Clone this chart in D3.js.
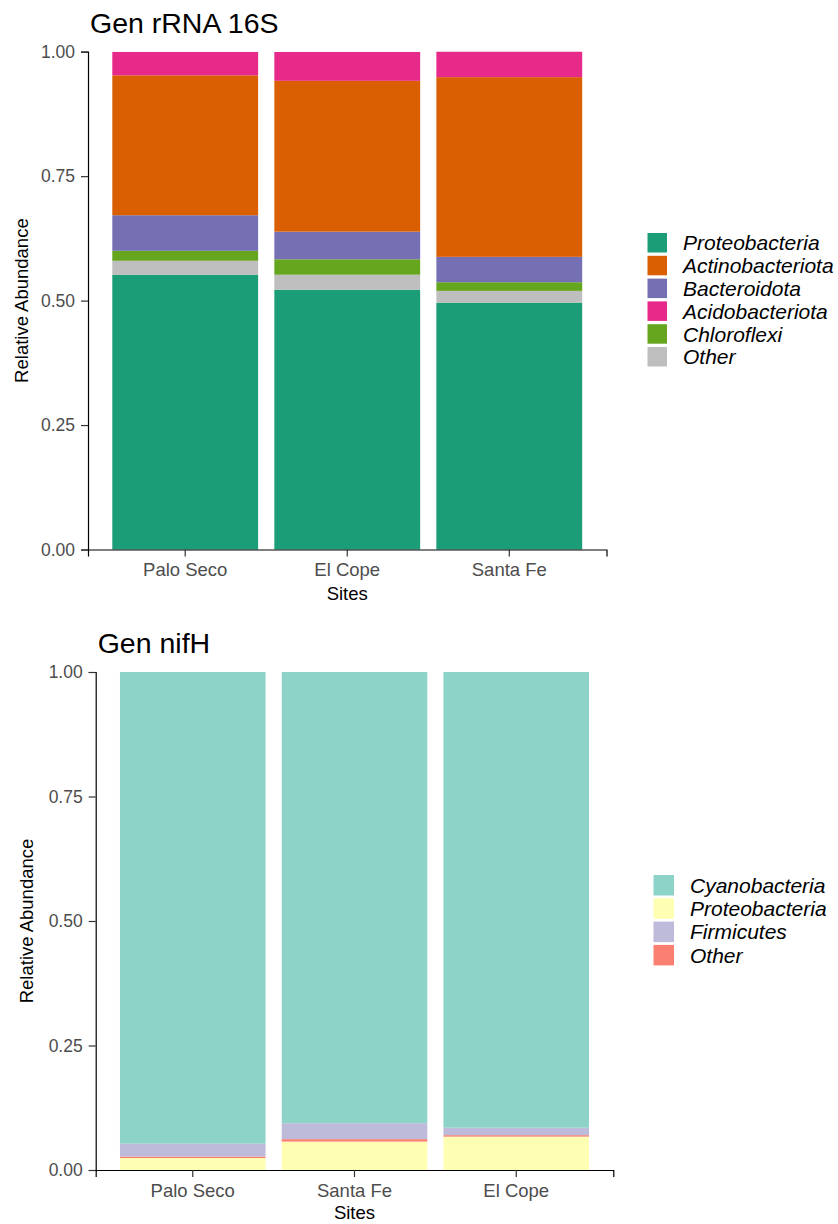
<!DOCTYPE html>
<html>
<head>
<meta charset="utf-8">
<script src="https://cdn.jsdelivr.net/npm/d3@7"></script>
<style>
  html, body { margin: 0; padding: 0; background: #fff; }
  svg { display: block; font-family: "Liberation Sans", Arial, sans-serif; }
</style>
</head>
<body>
<svg id="fig" width="838" height="1224"></svg>
<script>
// ---- 16S rRNA: relative abundance of bacterial phyla per site ----
const sites16S = ["Palo Seco", "El Cope", "Santa Fe"];
const legend16S = ["Proteobacteria", "Actinobacteriota", "Bacteroidota", "Acidobacteriota", "Chloroflexi", "Other"];
const stack16S = ["Proteobacteria", "Other", "Chloroflexi", "Bacteroidota", "Actinobacteriota", "Acidobacteriota"];
const colors16S = ["#1B9E77", "#D95F02", "#7570B3", "#E7298A", "#66A61E", "#BEBEBE"];
const proteobacteria16S = [0.552, 0.522, 0.496];
const actinobacteriota16S = [0.281, 0.303, 0.361];
const bacteroidota16S = [0.0715, 0.0555, 0.051];
const acidobacteriota16S = [0.047, 0.058, 0.051];
const chloroflexi16S = [0.020, 0.031, 0.0174];
const other16S = [0.028, 0.030, 0.0235];

// ---- nifH: relative abundance of diazotroph phyla per site ----
const sitesNifH = ["Palo Seco", "Santa Fe", "El Cope"];
const legendNifH = ["Cyanobacteria", "Proteobacteria", "Firmicutes", "Other"];
const stackNifH = ["Proteobacteria", "Other", "Firmicutes", "Cyanobacteria"];
const colorsNifH = ["#8DD3C7", "#FFFFB3", "#BEBADA", "#FB8072"];
const cyanobacteriaNifH = [0.947, 0.906, 0.915];
const proteobacteriaNifH = [0.024, 0.057, 0.067];
const firmicutesNifH = [0.026, 0.032, 0.015];
const otherNifH = [0.003, 0.005, 0.003];

const yTicks = [0, 0.25, 0.5, 0.75, 1];

const svg = d3.select("#fig");

function buildRows(sites, seriesMap) {
  return sites.map((s, i) => {
    const row = { site: s };
    for (const k in seriesMap) row[k] = seriesMap[k][i];
    return row;
  });
}

function drawPanel(opt) {
  const g = svg.append("g");
  // bars take 90% of each step; 0.6 step of space on either side of the outer bar centres
  const x = d3.scaleBand().domain(opt.sites)
    .range([opt.left, opt.right]).paddingInner(0.1).paddingOuter(0.15);
  const y = d3.scaleLinear().domain([0, 1]).range([opt.bottom, opt.top]);
  const color = d3.scaleOrdinal().domain(opt.legend).range(opt.colors);

  const stacked = d3.stack().keys(opt.stackOrder)(opt.rows);

  g.append("g").selectAll("g").data(stacked).join("g")
    .attr("fill", d => color(d.key))
    .selectAll("rect").data(d => d).join("rect")
      .attr("x", d => x(d.data.site))
      .attr("width", x.bandwidth())
      .attr("y", d => y(d[1]))
      .attr("height", d => y(d[0]) - y(d[1]));

  // y axis
  const yAxis = g.append("g").attr("transform", `translate(${opt.left},0)`)
    .call(d3.axisLeft(y).tickValues(yTicks).tickFormat(d3.format(".2f")).tickSizeOuter(0).tickSize(7).tickPadding(6));
  yAxis.select(".domain").attr("stroke", "#000").attr("stroke-width", 1.2);
  yAxis.selectAll(".tick line").attr("stroke", "#333").attr("stroke-width", 1.2);
  yAxis.selectAll(".tick text").attr("fill", "#4D4D4D").style("font-size", "17.5px");

  // x axis
  const xAxis = g.append("g").attr("transform", `translate(0,${opt.bottom})`)
    .call(d3.axisBottom(x).tickSizeOuter(0).tickSize(7).tickPadding(6));
  xAxis.select(".domain").attr("stroke", "#000").attr("stroke-width", 1.2);
  xAxis.selectAll(".tick line").attr("stroke", "#333").attr("stroke-width", 1.2);
  xAxis.selectAll(".tick text").attr("fill", "#4D4D4D").style("font-size", "18.5px")
    .attr("dy", null).attr("y", opt.xLabelBase - opt.bottom);

  // titles
  g.append("text").attr("x", opt.left + 2).attr("y", opt.titleBase)
    .style("font-size", "28.5px").attr("fill", "#000").text(opt.title);
  g.append("text").attr("x", (opt.left + opt.right) / 2).attr("y", opt.xTitleBase)
    .attr("text-anchor", "middle").style("font-size", "18.5px").attr("fill", "#000").text("Sites");
  g.append("text")
    .attr("transform", `translate(${opt.yTitleX},${(opt.top + opt.bottom) / 2}) rotate(-90)`)
    .attr("text-anchor", "middle").style("font-size", "18.5px").attr("fill", "#000")
    .text("Relative Abundance");

  // legend
  const lg = g.append("g");
  opt.legend.forEach((name, i) => {
    const yy = opt.legendTop + i * opt.legendStep;
    lg.append("rect").attr("x", opt.legendX).attr("y", yy)
      .attr("width", opt.keySize).attr("height", opt.keySize)
      .attr("fill", color(name));
    lg.append("text").attr("x", opt.legendTextX).attr("y", yy + opt.keySize / 2)
      .attr("dy", "0.36em").style("font-size", "21px").style("font-style", "italic")
      .attr("fill", "#000").text(name);
  });
}

drawPanel({
  title: "Gen rRNA 16S",
  sites: sites16S, legend: legend16S, colors: colors16S, stackOrder: stack16S,
  rows: buildRows(sites16S, {
    "Proteobacteria": proteobacteria16S, "Actinobacteriota": actinobacteriota16S,
    "Bacteroidota": bacteroidota16S, "Acidobacteriota": acidobacteriota16S,
    "Chloroflexi": chloroflexi16S, "Other": other16S
  }),
  left: 88, right: 606.5, top: 51.7, bottom: 549.5,
  titleBase: 33, xLabelBase: 576, xTitleBase: 600, yTitleX: 28,
  legendX: 647.5, legendTextX: 683, legendTop: 233, legendStep: 22.8, keySize: 19.5
});

drawPanel({
  title: "Gen nifH",
  sites: sitesNifH, legend: legendNifH, colors: colorsNifH, stackOrder: stackNifH,
  rows: buildRows(sitesNifH, {
    "Cyanobacteria": cyanobacteriaNifH, "Proteobacteria": proteobacteriaNifH,
    "Firmicutes": firmicutesNifH, "Other": otherNifH
  }),
  left: 95.7, right: 613.3, top: 672, bottom: 1170,
  titleBase: 652.5, xLabelBase: 1196.5, xTitleBase: 1219, yTitleX: 33,
  legendX: 653.5, legendTextX: 690, legendTop: 875, legendStep: 23.3, keySize: 20.5
});
</script>
</body>
</html>
